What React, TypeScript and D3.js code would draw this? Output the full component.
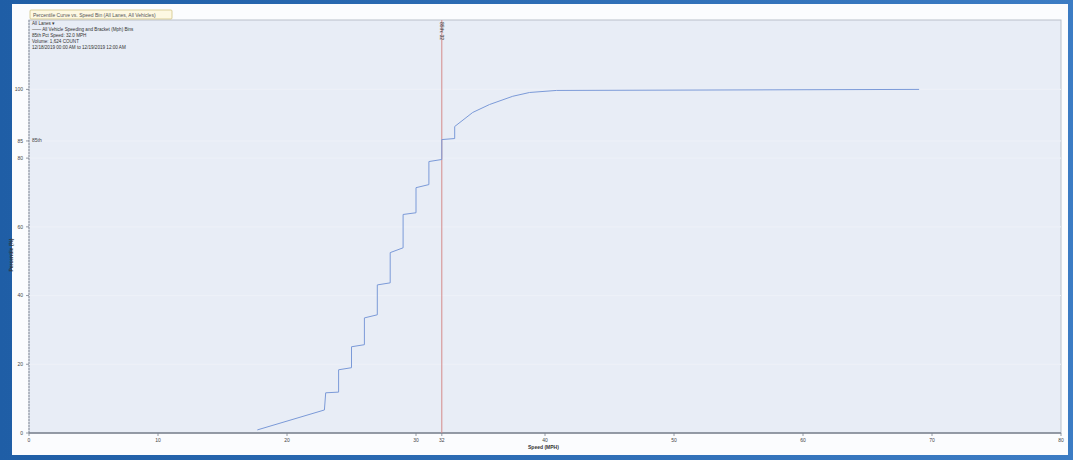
import React from "react";
import * as d3 from "d3";

const speeds = [17.7, 22.9, 23, 24, 24, 25, 25, 26, 26, 27, 27, 28, 28, 29, 29, 30, 30, 31, 31, 32, 32, 33, 33, 34.4, 35.7, 37.5, 38.8, 40.9, 69];
const percentiles = [0.9, 6.7, 11.7, 11.9, 18.4, 19.0, 25.1, 25.7, 33.5, 34.4, 43.1, 43.7, 52.5, 53.9, 63.6, 64.1, 71.4, 72.3, 79.0, 79.6, 85.4, 85.7, 89.2, 93.3, 95.6, 98.0, 99.1, 99.7, 100];
const xTicks = [0, 10, 20, 30, 32, 40, 50, 60, 70, 80];
const yTicks = [0, 20, 40, 60, 80, 85, 100];
const pct85Speed = 32;
const pct85 = 85;
const legendLines = [
  "All Lanes \u25BE",
  "\u2014\u2014 All Vehicle Speeding and Bracket (Mph) Bins",
  "85th Pct Speed: 32.0 MPH",
  "Volume: 1,624 COUNT",
  "12/18/2019 00:00 AM to 12/19/2019 12:00 AM",
];
const titleText = "Percentile Curve vs. Speed Bin (All Lanes, All Vehicles)";

export default function App() {
  const W = 1073, H = 460;
  const L = 29, R = 1061, T = 20, B = 433;
  const x = d3.scaleLinear().domain([0, 80]).range([L, R]);
  const y = d3.scaleLinear().domain([0, 120.2]).range([B, T]);
  const pts = speeds.map((s, i) => [s, percentiles[i]] as [number, number]);
  const line = d3.line<[number, number]>().x(d => x(d[0])).y(d => y(d[1]));
  const font = "Liberation Sans, Arial, sans-serif";
  return (
    <div style={{ position: "absolute", left: 0, top: 0 }}>
      <svg width={W} height={H} style={{ display: "block" }}>
        <defs>
          <linearGradient id="lb" x1="0" x2="1" y1="0" y2="0">
            <stop offset="0" stopColor="#1f5ea6" />
            <stop offset="1" stopColor="#3c7cc4" />
          </linearGradient>
        </defs>
        <rect x={0} y={0} width={W} height={H} fill="url(#lb)" />
        <rect x={12} y={4} width={W - 17} height={H - 9} fill="#fbfcfe" />
        {/* plot area */}
        <rect x={L} y={T} width={R - L} height={B - T} fill="#e8edf6" stroke="#b9bfca" strokeWidth={1} />
        {/* faint grid bands */}
        {yTicks.filter(t => t > 0).map(t => (
          <line key={t} x1={L} x2={R} y1={y(t)} y2={y(t)} stroke="#eef1f8" strokeWidth={1} />
        ))}
        {/* axes */}
        <line x1={L} x2={L} y1={T} y2={B} stroke="#8e95a3" strokeWidth={1} strokeDasharray="2,1" />
        <line x1={L} x2={R} y1={B} y2={B} stroke="#7c8390" strokeWidth={1.6} />
        {yTicks.map(t => (
          <g key={"y" + t}>
            <line x1={L - 3} x2={L} y1={y(t)} y2={y(t)} stroke="#7c8390" strokeWidth={0.8} />
            <text x={L - 6} y={y(t) + 1.8} fontSize={5} textAnchor="end" fill="#444" fontFamily={font}>{t}</text>
          </g>
        ))}
        {xTicks.map(t => (
          <g key={"x" + t}>
            <line x1={x(t)} x2={x(t)} y1={B} y2={B + 3} stroke="#7c8390" strokeWidth={0.8} />
            <text x={x(t)} y={B + 9} fontSize={5} textAnchor="middle" fill="#444" fontFamily={font}>{t}</text>
          </g>
        ))}
        <text x={528} y={B + 16} fontSize={5} fill="#333" fontFamily={font} fontWeight="bold">Speed (MPH)</text>
        <text transform={`translate(${13},${255}) rotate(-90)`} fontSize={5} textAnchor="middle" fill="#333" fontFamily={font} fontWeight="bold">Percentile (%)</text>
        {/* 85th percentile markers */}
        <line x1={x(pct85Speed)} x2={x(pct85Speed)} y1={T} y2={B} stroke="#d58a8a" strokeWidth={1} />
        <text transform={`translate(${x(pct85Speed) - 1.5},${T + 2}) rotate(90)`} fontSize={5} fill="#333" fontFamily={font}>85th: 32</text>
        <text x={L + 3} y={y(pct85) + 1} fontSize={5} fill="#444" fontFamily={font}>85th</text>
        {/* curve */}
        <path d={line(pts) || ""} fill="none" stroke="#7b9ad8" strokeWidth={1} />
        {/* title tab */}
        <rect x={30} y={10} width={142} height={9} fill="#fdf8e2" stroke="#cbbd7a" strokeWidth={0.7} rx={1} />
        <text x={33} y={16.5} fontSize={5} fill="#555" fontFamily={font}>{titleText}</text>
        {/* legend */}
        {legendLines.map((s, i) => (
          <text key={i} x={32} y={25 + i * 6} fontSize={4.6} fill="#333" fontFamily={font}>{s}</text>
        ))}
      </svg>
    </div>
  );
}
